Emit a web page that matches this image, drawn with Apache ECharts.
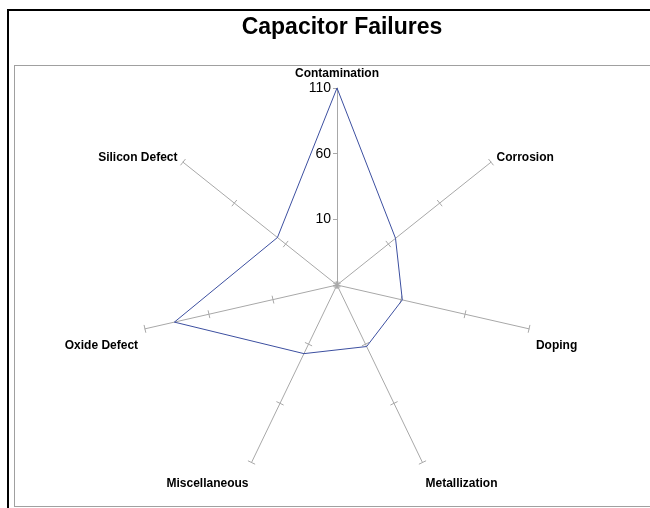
<!DOCTYPE html>
<html>
<head>
<meta charset="utf-8">
<script src="https://cdn.jsdelivr.net/npm/echarts@6/dist/echarts.min.js"></script>
<style>
  body { margin: 0; background: #fff; }
  .outer-frame { position: absolute; left: 7px; top: 9px; width: 700px; height: 600px; border: 2px solid #000; }
  .inner-frame { position: absolute; left: 14px; top: 65px; width: 700px; height: 440px; border: 1px solid #a0a0a0; }
  #chart { position: absolute; left: 0; top: 0; width: 650px; height: 508px; }
</style>
</head>
<body>
<div class="outer-frame"></div>
<div class="inner-frame"></div>
<div id="chart"></div>
<script>
// categories clockwise from the top, as they appear in the chart
const categories = ['Contamination', 'Corrosion', 'Doping', 'Metallization', 'Miscellaneous', 'Oxide Defect', 'Silicon Defect'];
const failures = [110, 17, 11, 12, 18, 87, 18];
const axisMin = -40;
const axisMax = 110;
const tickStep = 50; // ticks at 10, 60, 110

// names on the lower spokes sit below the spoke end in the original
const pushedDown = ['Doping', 'Metallization', 'Miscellaneous', 'Oxide Defect'];

// echarts lays the indicators out counter-clockwise, so keep the first and flip the rest
const order = [0].concat(categories.map((c, i) => i).slice(1).reverse());

const indicators = order.map((i) => {
  const ind = { name: categories[i], min: axisMin, max: axisMax };
  if (i === 0) {
    ind.axisLabel = {
      show: true,
      color: '#000',
      fontSize: 14,
      fontFamily: 'Liberation Sans',
      margin: 6,
      formatter: (v) => (v === axisMin ? '' : v)
    };
  }
  return ind;
});

// second set of ticks on the other side of every spoke but the first
const tickIndicators = order.map((i) => {
  const ind = { name: categories[i], min: axisMin, max: axisMax };
  if (i === 0) ind.axisTick = { show: false };
  return ind;
});

const radarBase = {
  center: [337, 285],
  radius: 197,
  startAngle: 90,
  splitNumber: (axisMax - axisMin) / tickStep,
  shape: 'polygon',
  splitLine: { show: false },
  splitArea: { show: false }
};

const chart = echarts.init(document.getElementById('chart'));
chart.setOption({
  animation: false,
  title: {
    text: 'Capacitor Failures',
    left: 337,
    top: 11,
    textAlign: 'center',
    textStyle: { fontSize: 23, fontWeight: 'bold', color: '#000', fontFamily: 'Liberation Sans' }
  },
  radar: [
    Object.assign({}, radarBase, {
      nameGap: 7,
      axisName: {
        color: '#000',
        fontSize: 12,
        fontWeight: 'bold',
        fontFamily: 'Liberation Sans',
        lineHeight: 15,
        formatter: (name) => (pushedDown.indexOf(name) >= 0 ? '\n\n' + name : name)
      },
      indicator: indicators,
      axisLine: { lineStyle: { color: '#a8a8a8', width: 1 } },
      axisTick: { show: true, length: 4, lineStyle: { color: '#a8a8a8' } },
      axisLabel: { show: false }
    }),
    Object.assign({}, radarBase, {
      axisName: { show: false },
      indicator: tickIndicators,
      axisLine: { show: false },
      axisTick: { show: true, length: -4, lineStyle: { color: '#a8a8a8' } },
      axisLabel: { show: false }
    })
  ],
  series: [{
    type: 'radar',
    radarIndex: 0,
    symbol: 'none',
    lineStyle: { color: '#3c4fa0', width: 1 },
    data: [{ value: order.map((i) => failures[i]), name: 'Failures' }]
  }]
});
</script>
</body>
</html>
